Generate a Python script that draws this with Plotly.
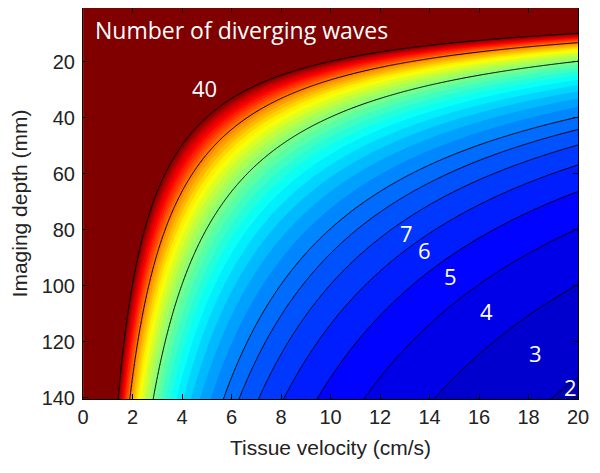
import numpy as np
import plotly.graph_objects as go

# ---- data ----
# contour levels drawn as black lines
line_levels = [3, 4, 5, 6, 7, 8, 9, 10, 20, 30, 40]
# tissue velocity (cm/s) where each line meets the bottom edge (depth 140.5 mm)
crossing_velocity = [18.94, 14.1, 11.3, 9.45, 8.08, 7.07, 6.26, 5.67, 2.84, 1.9, 1.44]
bottom_depth = 140.5
# hyperbolic family: level * velocity * depth is constant along the lines
wave_const = float(np.mean([l * v * bottom_depth for l, v in zip(line_levels, crossing_velocity)]))

velocity_axis = np.linspace(0.02, 20, 500)   # cm/s
depth_axis = np.linspace(0.9, 140.5, 300)    # mm

label_text = ["40", "7", "6", "5", "4", "3", "2"]
label_v = [4.91, 13.09, 13.78, 14.83, 16.32, 18.29, 19.71]
label_d = [29.4, 81.2, 87.4, 96.5, 109.0, 124.0, 136.2]

x_ticks = [0, 2, 4, 6, 8, 10, 12, 14, 16, 18, 20]
y_ticks = [20, 40, 60, 80, 100, 120, 140]

V, D = np.meshgrid(velocity_axis, depth_axis)
Z = np.clip(wave_const / (V * D), 0, 45).round(3)

jet = [[0.0, "rgb(0,0,128)"], [0.125, "rgb(0,0,255)"], [0.375, "rgb(0,255,255)"],
       [0.625, "rgb(255,255,0)"], [0.875, "rgb(255,0,0)"], [1.0, "rgb(128,0,0)"]]

fig = go.Figure()
fig.add_trace(go.Contour(
    x=velocity_axis, y=depth_axis, z=Z,
    colorscale=jet, zmin=0.5, zmax=40.5, showscale=False,
    contours=dict(coloring="fill", start=0, end=40, size=1),
    line=dict(width=0), hoverinfo="skip"))
fig.add_trace(go.Contour(
    x=velocity_axis, y=depth_axis, z=Z, showscale=False,
    contours=dict(coloring="none", start=3, end=10, size=1),
    line=dict(width=1, color="black"), hoverinfo="skip"))
fig.add_trace(go.Contour(
    x=velocity_axis, y=depth_axis, z=Z, showscale=False,
    contours=dict(coloring="none", start=20, end=40, size=10),
    line=dict(width=1, color="black"), hoverinfo="skip"))

for t, v, d in zip(label_text, label_v, label_d):
    fig.add_annotation(x=v, y=d, text=t, showarrow=False,
                       font=dict(family="Open Sans", size=22, color="white"))
fig.add_annotation(x=6.4, y=8.7, text="Number of diverging waves", showarrow=False,
                   font=dict(family="Open Sans", size=23, color="white"))

axis_common = dict(showline=True, linecolor="black", linewidth=1, mirror="ticks",
                   ticks="inside", ticklen=5, tickcolor="black", showgrid=False,
                   zeroline=False, automargin=False,
                   tickfont=dict(family="Arial", size=20, color="#222"))
fig.update_xaxes(range=[0, 20], tickvals=x_ticks,
                 title=dict(text="Tissue velocity (cm/s)", font=dict(family="Arial", size=21, color="#222"), standoff=13),
                 **axis_common)
fig.update_yaxes(range=[140.5, 0.9], tickvals=y_ticks, ticklabelstandoff=3,
                 title=dict(text="Imaging depth (mm)", font=dict(family="Arial", size=21, color="#222"), standoff=14),
                 **axis_common)
# page body adds an 8px margin, so the figure is sized to fit inside 600x473
fig.update_layout(width=584, height=457, margin=dict(l=75, r=14, t=0, b=66),
                  paper_bgcolor="white", plot_bgcolor="white", showlegend=False)
fig.write_html("out.html")
